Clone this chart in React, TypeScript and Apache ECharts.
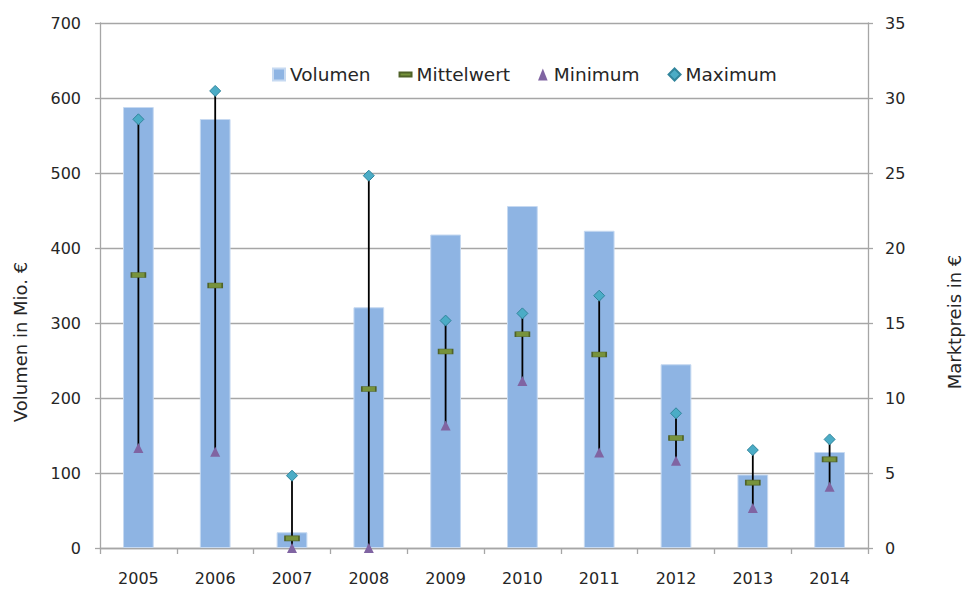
import React, { useEffect, useRef } from "react";
import * as echarts from "echarts";

const years = ["2005", "2006", "2007", "2008", "2009", "2010", "2011", "2012", "2013", "2014"];
const volumen = [588, 572, 21, 321, 418, 456, 423, 245, 98, 128];
const mittelwert = [18.2, 17.5, 0.64, 10.6, 13.1, 14.25, 12.9, 7.33, 4.36, 5.91];
const minimum = [6.67, 6.42, 0, 0, 8.16, 11.13, 6.36, 5.82, 2.67, 4.09];
const maximum = [28.58, 30.47, 4.82, 24.82, 15.16, 15.64, 16.82, 8.98, 6.53, 7.24];

const leftTicks = { min: 0, max: 700, interval: 100 };
const rightTicks = { min: 0, max: 35, interval: 5 };

const FONT = "DejaVu Sans";
const TEXT = "#262626";
const GRID = "#a6a6a6";

export default function App() {
  const ref = useRef<HTMLDivElement>(null);
  useEffect(() => {
    if (!ref.current) return;
    const chart = echarts.init(ref.current, null, { renderer: "svg" });
    const errData = years.map((_, i) => [i, minimum[i], maximum[i]]);
    chart.setOption({
      animation: false,
      backgroundColor: "#ffffff",
      textStyle: { fontFamily: FONT, color: TEXT },
      grid: { left: 100, right: 99, top: 23, bottom: 41, containLabel: false },
      legend: {
        left: 272,
        top: 65,
        padding: 0,
        itemWidth: 12,
        itemHeight: 12,
        itemGap: 28,
        textStyle: { fontFamily: FONT, fontSize: 18.5, color: TEXT },
        data: [
          { name: "Volumen", icon: "rect" },
          { name: "Mittelwert", icon: "path://M0,0H15V5H0Z" },
          { name: "Minimum", icon: "path://M4,0L8,10L0,10Z" },
          { name: "Maximum", icon: "path://M5,0L10,5L5,10L0,5Z" },
        ],
      },
      xAxis: {
        type: "category",
        data: years,
        boundaryGap: true,
        axisLine: { show: true, lineStyle: { color: GRID, width: 1.3 } },
        axisTick: { show: true, length: 6, lineStyle: { color: GRID, width: 1.3 } },
        axisLabel: { fontFamily: FONT, fontSize: 16, color: TEXT, margin: 22 },
        splitLine: { show: false },
      },
      yAxis: [
        {
          type: "value",
          min: leftTicks.min,
          max: leftTicks.max,
          interval: leftTicks.interval,
          position: "left",
          axisLine: { show: true, lineStyle: { color: GRID, width: 1.3 } },
          axisTick: { show: true, length: 5, lineStyle: { color: GRID, width: 1.3 } },
          axisLabel: { fontFamily: FONT, fontSize: 16, color: TEXT, margin: 19 },
          splitLine: { show: true, lineStyle: { color: GRID, width: 1.3 } },
        },
        {
          type: "value",
          min: rightTicks.min,
          max: rightTicks.max,
          interval: rightTicks.interval,
          position: "right",
          axisLine: { show: true, lineStyle: { color: GRID, width: 1.3 } },
          axisTick: { show: true, length: 5, lineStyle: { color: GRID, width: 1.3 } },
          axisLabel: { fontFamily: FONT, fontSize: 16, color: TEXT, margin: 17 },
          splitLine: { show: false },
        },
      ],
      graphic: [
        {
          type: "text",
          x: 20,
          y: 342,
          rotation: Math.PI / 2,
          style: {
            text: "Volumen in Mio. €",
            fontFamily: FONT,
            fontSize: 18,
            fill: TEXT,
            align: "center",
            verticalAlign: "middle",
          },
        },
        {
          type: "text",
          x: 954,
          y: 322,
          rotation: Math.PI / 2,
          style: {
            text: "Marktpreis in €",
            fontFamily: FONT,
            fontSize: 18,
            fill: TEXT,
            align: "center",
            verticalAlign: "middle",
          },
        },
      ],
      series: [
        {
          name: "Volumen",
          type: "bar",
          yAxisIndex: 0,
          data: volumen,
          barWidth: "40%",
          itemStyle: { color: "#8eb4e3", borderColor: "#c6d9f1", borderWidth: 1 },
          z: 1,
        },
        {
          name: "Spanne",
          type: "custom",
          yAxisIndex: 1,
          data: errData,
          z: 3,
          renderItem: (params: any, api: any) => {
            const i = api.value(0);
            const lo = api.coord([i, api.value(1)]);
            const hi = api.coord([i, api.value(2)]);
            return {
              type: "line",
              shape: { x1: lo[0], y1: lo[1], x2: hi[0], y2: hi[1] },
              style: { stroke: "#000000", lineWidth: 1.8 },
            };
          },
        },
        {
          name: "Mittelwert",
          type: "scatter",
          yAxisIndex: 1,
          data: mittelwert,
          symbol: "rect",
          symbolSize: [14, 5],
          itemStyle: { color: "#77933c", borderColor: "#4f6228", borderWidth: 1, opacity: 1 },
          z: 4,
        },
        {
          name: "Minimum",
          type: "scatter",
          yAxisIndex: 1,
          data: minimum,
          symbol: "triangle",
          symbolSize: [10, 10],
          itemStyle: { color: "#8064a2", opacity: 1 },
          z: 4,
        },
        {
          name: "Maximum",
          type: "scatter",
          yAxisIndex: 1,
          data: maximum,
          symbol: "diamond",
          symbolSize: [11, 11],
          itemStyle: { color: "#4bacc6", borderColor: "#31859c", borderWidth: 1, opacity: 1 },
          z: 4,
        },
      ],
    });
    return () => chart.dispose();
  }, []);
  return <div ref={ref} style={{ width: 967, height: 589, position: "absolute", left: 0, top: 0 }} />;
}
